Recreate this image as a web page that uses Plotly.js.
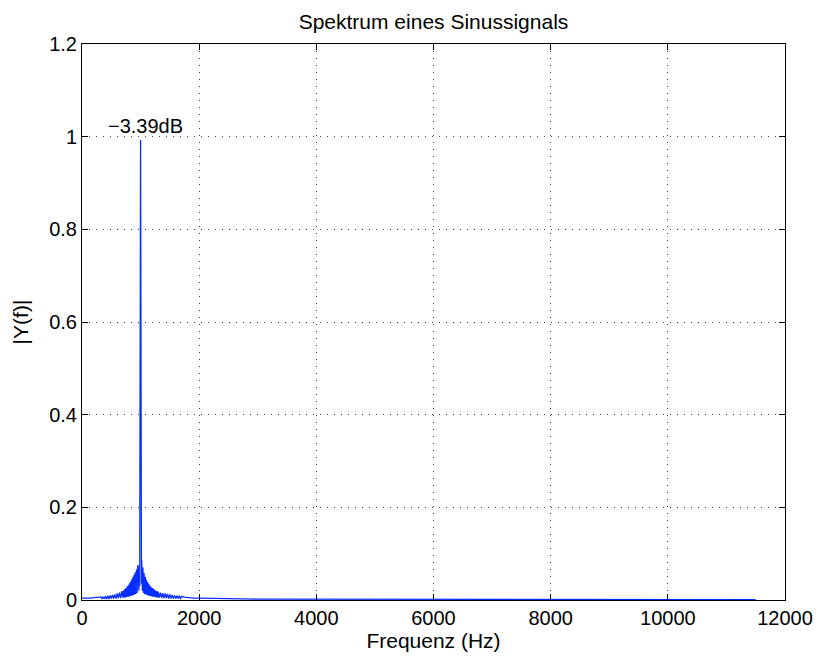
<!DOCTYPE html>
<html>
<head>
<meta charset="utf-8">
<script src="https://cdn.plot.ly/plotly-3.0.1.min.js"></script>
<style>html,body{margin:0;padding:0;background:#fff;}#chart{width:817px;height:659px;}</style>
</head>
<body>
<div id="chart"></div>
<script>
// Frequency (Hz) and magnitude |Y(f)|
var freq = [0,50,100,150,200,250,300,
 320,340,360,380,400,420,440,460,480,500,520,540,560,580,600,620,640,660,680,700,
 710,720,730,740,750,760,770,780,790,800,810,820,830,840,850,860,870,880,890,900,
 910,920,930,940,950,960,970,980,985,1000,1015,1020,1030,1040,1050,1060,1070,1080,1090,1100,
 1110,1120,1130,1140,1150,1160,1170,1180,1190,1200,1210,1220,1230,1240,1250,1260,1270,1280,1290,1300,
 1320,1340,1360,1380,1400,1420,1440,1460,1480,1500,1520,1540,1560,1580,1600,1620,1640,1660,1680,1700,
 1750,1800,1900,2000,2200,2500,3000,4000,5000,6000,8000,10000,11500];
var mag = [0.004,0.0035,0.004,0.004,0.005,0.005,0.006,
 0.007,0.002,0.007,0.002,0.008,0.002,0.009,0.002,0.010,0.003,0.011,0.003,0.012,0.003,0.014,0.004,0.016,0.004,0.019,0.005,
 0.021,0.005,0.023,0.006,0.026,0.006,0.029,0.007,0.032,0.007,0.036,0.008,0.040,0.009,0.045,0.010,0.050,0.011,0.055,0.012,
 0.060,0.013,0.066,0.015,0.072,0.075,0.020,0.050,0.030,0.993,0.035,0.086,0.020,0.070,0.015,0.058,0.013,0.050,0.012,0.044,
 0.011,0.039,0.010,0.035,0.009,0.031,0.008,0.028,0.008,0.026,0.007,0.024,0.007,0.022,0.006,0.020,0.006,0.019,0.005,0.018,
 0.005,0.016,0.004,0.015,0.004,0.014,0.004,0.013,0.003,0.012,0.003,0.011,0.003,0.010,0.003,0.009,0.003,0.009,0.002,0.008,
 0.006,0.005,0.004,0.004,0.003,0.003,0.002,0.002,0.0015,0.0015,0.001,0.001,0.001];

var xTicks = [0,2000,4000,6000,8000,10000,12000];
var xTickText = ['0','2000','4000','6000','8000','10000','12000'];
var yTicks = [0,0.2,0.4,0.6,0.8,1,1.2];
var yTickText = ['0','0.2','0.4','0.6','0.8','1','1.2'];

var peakLabel = '\u22123.39dB';
var peakFreq = 1000;
var peakMag = 0.993;

var font = 'Liberation Sans, Arial, Helvetica, sans-serif';

var trace = {
  x: freq, y: mag, type: 'scatter', mode: 'lines',
  line: {color: 'rgb(10,45,255)', width: 1.3},
  hoverinfo: 'none'
};

var axisCommon = {
  showline: true, linecolor: '#000', linewidth: 1, mirror: 'allticks',
  ticks: 'inside', ticklen: 6, tickcolor: '#000', tickwidth: 1,
  showgrid: true, gridcolor: 'rgba(0,0,0,0.75)', gridwidth: 1, griddash: '1px,6px',
  zeroline: false, tickmode: 'array',
  tickfont: {family: font, size: 20, color: '#000'}
};

var layout = {
  width: 817, height: 659,
  margin: {l: 82, r: 32, t: 44, b: 59},
  paper_bgcolor: '#fff', plot_bgcolor: '#fff',
  showlegend: false,
  title: {text: 'Spektrum eines Sinussignals', font: {family: font, size: 21, color: '#000'},
          x: 0.5, xref: 'paper', xanchor: 'center', y: 0.967, yanchor: 'middle'},
  xaxis: Object.assign({}, axisCommon, {
    range: [0, 12000], tickvals: xTicks, ticktext: xTickText,
    title: {text: 'Frequenz (Hz)', font: {family: font, size: 21, color: '#000'}, standoff: 4}
  }),
  yaxis: Object.assign({}, axisCommon, {
    range: [0, 1.2], tickvals: yTicks, ticktext: yTickText,
    title: {text: '|Y(f)|', font: {family: font, size: 21, color: '#000'}, standoff: 14}
  }),
  annotations: [{
    x: peakFreq, y: peakMag, xref: 'x', yref: 'y', text: peakLabel, showarrow: false,
    xanchor: 'center', yanchor: 'bottom', xshift: 5, yshift: 1,
    font: {family: font, size: 20, color: '#000'}
  }]
};

Plotly.newPlot('chart', [trace], layout, {staticPlot: true, displayModeBar: false});
</script>
</body>
</html>
